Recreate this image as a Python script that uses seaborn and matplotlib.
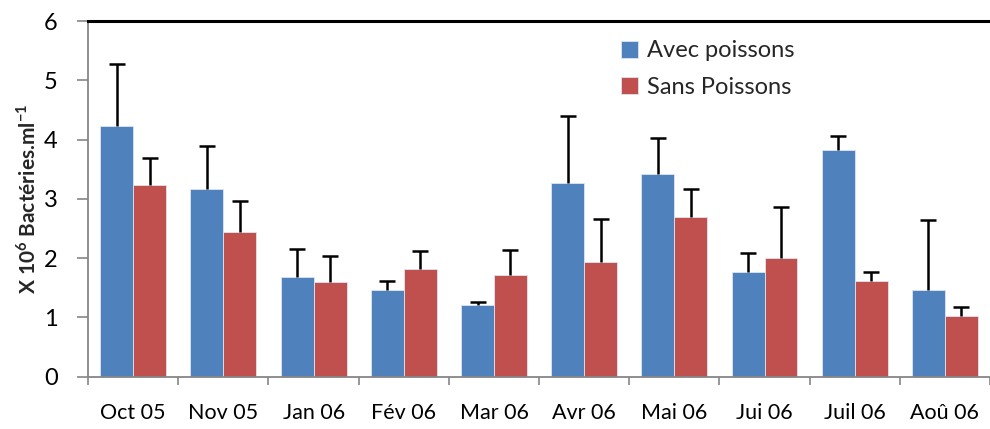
import numpy as np
import pandas as pd
import matplotlib
matplotlib.use("Agg")
import matplotlib.pyplot as plt
import seaborn as sns

# ---- data ----
months = ['Oct 05', 'Nov 05', 'Jan 06', 'Fév 06', 'Mar 06',
          'Avr 06', 'Mai 06', 'Jui 06', 'Juil 06', 'Aoû 06']
avec = [4.23, 3.16, 1.68, 1.46, 1.21, 3.27, 3.42, 1.76, 3.83, 1.47]
avec_err = [1.04, 0.73, 0.47, 0.15, 0.05, 1.13, 0.61, 0.32, 0.23, 1.18]
sans = [3.23, 2.44, 1.60, 1.81, 1.71, 1.93, 2.70, 2.00, 1.62, 1.03]
sans_err = [0.46, 0.52, 0.43, 0.31, 0.42, 0.73, 0.46, 0.86, 0.14, 0.14]
series = ['Avec poissons', 'Sans Poissons']
colors = ['#4F81BD', '#C0504D']

df = pd.DataFrame({
    'Mois': months * 2,
    'Valeur': avec + sans,
    'Serie': [series[0]] * len(months) + [series[1]] * len(months),
})

sns.set_theme(style="white")
plt.rcParams['font.family'] = ['Lato', 'DejaVu Sans']
plt.rcParams['mathtext.fontset'] = 'custom'
plt.rcParams['mathtext.rm'] = 'Lato'
plt.rcParams['mathtext.bf'] = 'Lato:bold'

fig = plt.figure(figsize=(9.9, 4.29), dpi=100)
ax = fig.add_axes([0.089, 0.122, 0.911, 0.829])

sns.barplot(data=df, x='Mois', y='Valeur', hue='Serie', order=months,
            hue_order=series, palette=colors, saturation=1, width=0.73, gap=0,
            edgecolor='#dce6f2', linewidth=0.6, errorbar=None, ax=ax)

# upward-only error bars, placed on the bar centres
errs = [avec_err, sans_err]
for container, err in zip(ax.containers, errs):
    xs = [p.get_x() + p.get_width() / 2 for p in container.patches]
    hs = [p.get_height() for p in container.patches]
    eb = ax.errorbar(xs, hs, yerr=[np.zeros(len(err)), err], fmt='none',
                     ecolor='black', elinewidth=1.8, capsize=6, capthick=1.8,
                     zorder=3)
    eb[1][0].set_visible(False)   # hide the lower caps

ax.set_ylim(0, 6)
ax.set_xlim(-0.5, len(months) - 0.5)
ax.set_yticks(range(0, 7))
ax.set_xticks(np.arange(-0.5, len(months), 1), minor=True)
ax.tick_params(axis='x', which='major', length=0, labelsize=15.5, pad=19)
ax.tick_params(axis='x', which='minor', length=6, color='#868686', width=1.2,
               direction='out', bottom=True)
ax.tick_params(axis='y', length=8, color='#868686', width=1.2,
               direction='out', left=True, labelsize=17, pad=14)
for lab in ax.get_xticklabels() + ax.get_yticklabels():
    lab.set_color('black')

ax.set_xlabel("")
ax.set_ylabel(r"X 10$^{\mathbf{6}}$ Bactéries.ml$^{\mathbf{-1}}$",
              fontsize=15, fontweight='bold', labelpad=3)

for side in ['left', 'bottom']:
    ax.spines[side].set_color('#868686')
    ax.spines[side].set_linewidth(1.3)
ax.spines['right'].set_visible(False)
ax.spines['top'].set_color('black')
ax.spines['top'].set_linewidth(2.2)

leg = ax.legend(loc='upper left', bbox_to_anchor=(0.567, 1.005), frameon=False,
                fontsize=17, handlelength=0.75, handleheight=0.75,
                handletextpad=0.35, labelspacing=0.65)
leg.set_title(None)

fig.savefig("out.png", dpi=100)
